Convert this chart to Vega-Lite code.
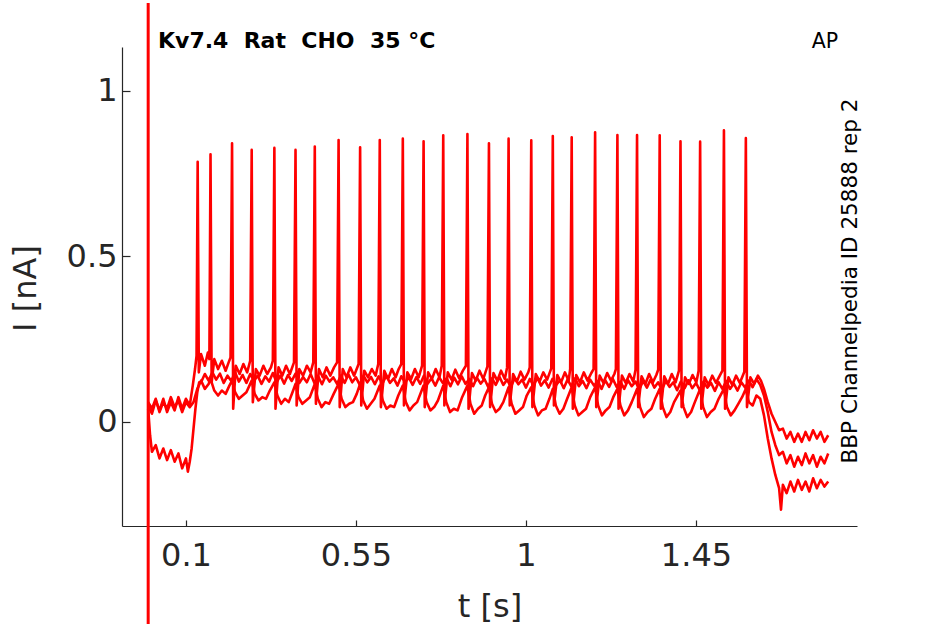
{
  "$schema": "https://vega.github.io/schema/vega-lite/v6.json",
  "width": 735,
  "height": 479,
  "autosize": {"type": "none"},
  "padding": {"left": 122, "top": 47, "right": 88, "bottom": 98},
  "datasets": {
    "traceA": [
      {"t":0.000,"i":0.050},{"t":0.010,"i":0.025},{"t":0.020,"i":0.065},{"t":0.030,"i":0.035},{"t":0.040,"i":0.070},{"t":0.050,"i":0.030},{"t":0.060,"i":0.060},{"t":0.070,"i":0.035},{"t":0.080,"i":0.075},{"t":0.090,"i":0.040},{"t":0.100,"i":0.070},{"t":0.110,"i":0.050},{"t":0.118,"i":0.110},{"t":0.124,"i":0.160},{"t":0.128,"i":0.200},
      {"t":0.131,"i":0.786},{"t":0.134,"i":0.150},{"t":0.140,"i":0.205},{"t":0.150,"i":0.170},{"t":0.158,"i":0.210},{"t":0.162,"i":0.190},
      {"t":0.165,"i":0.809},{"t":0.168,"i":0.120},{"t":0.175,"i":0.190},{"t":0.185,"i":0.160},{"t":0.195,"i":0.185},{"t":0.205,"i":0.155},{"t":0.213,"i":0.180},{"t":0.218,"i":0.195},
      {"t":0.222,"i":0.842},{"t":0.225,"i":0.040},{"t":0.232,"i":0.170},{"t":0.242,"i":0.145},{"t":0.252,"i":0.175},{"t":0.262,"i":0.150},{"t":0.270,"i":0.185},
      {"t":0.274,"i":0.822},{"t":0.277,"i":0.060},{"t":0.285,"i":0.160},{"t":0.295,"i":0.140},{"t":0.305,"i":0.170},{"t":0.315,"i":0.145},{"t":0.325,"i":0.165},{"t":0.330,"i":0.185},
      {"t":0.334,"i":0.828},{"t":0.337,"i":0.040},{"t":0.345,"i":0.165},{"t":0.355,"i":0.140},{"t":0.365,"i":0.170},{"t":0.375,"i":0.145},{"t":0.386,"i":0.180},
      {"t":0.390,"i":0.822},{"t":0.393,"i":0.050},{"t":0.400,"i":0.160},{"t":0.410,"i":0.140},{"t":0.420,"i":0.170},{"t":0.430,"i":0.150},{"t":0.437,"i":0.180},
      {"t":0.441,"i":0.832},{"t":0.444,"i":0.055},{"t":0.452,"i":0.160},{"t":0.462,"i":0.135},{"t":0.472,"i":0.165},{"t":0.482,"i":0.140},{"t":0.492,"i":0.165},{"t":0.500,"i":0.180},
      {"t":0.504,"i":0.852},{"t":0.507,"i":0.045},{"t":0.515,"i":0.160},{"t":0.525,"i":0.135},{"t":0.535,"i":0.165},{"t":0.545,"i":0.140},{"t":0.557,"i":0.175},
      {"t":0.561,"i":0.830},{"t":0.564,"i":0.050},{"t":0.572,"i":0.155},{"t":0.582,"i":0.135},{"t":0.592,"i":0.160},{"t":0.602,"i":0.140},{"t":0.609,"i":0.175},
      {"t":0.613,"i":0.852},{"t":0.616,"i":0.045},{"t":0.625,"i":0.155},{"t":0.635,"i":0.130},{"t":0.645,"i":0.160},{"t":0.655,"i":0.135},{"t":0.663,"i":0.160},{"t":0.670,"i":0.175},
      {"t":0.674,"i":0.856},{"t":0.677,"i":0.050},{"t":0.686,"i":0.150},{"t":0.696,"i":0.130},{"t":0.706,"i":0.160},{"t":0.716,"i":0.135},{"t":0.725,"i":0.170},
      {"t":0.729,"i":0.848},{"t":0.732,"i":0.045},{"t":0.741,"i":0.150},{"t":0.751,"i":0.130},{"t":0.761,"i":0.160},{"t":0.771,"i":0.135},{"t":0.777,"i":0.170},
      {"t":0.781,"i":0.866},{"t":0.784,"i":0.050},{"t":0.793,"i":0.150},{"t":0.803,"i":0.128},{"t":0.813,"i":0.158},{"t":0.823,"i":0.132},{"t":0.833,"i":0.155},{"t":0.841,"i":0.170},
      {"t":0.845,"i":0.870},{"t":0.848,"i":0.040},{"t":0.857,"i":0.148},{"t":0.867,"i":0.125},{"t":0.877,"i":0.155},{"t":0.887,"i":0.130},{"t":0.898,"i":0.168},
      {"t":0.902,"i":0.842},{"t":0.905,"i":0.045},{"t":0.914,"i":0.148},{"t":0.924,"i":0.125},{"t":0.934,"i":0.155},{"t":0.944,"i":0.130},{"t":0.950,"i":0.165},
      {"t":0.954,"i":0.856},{"t":0.957,"i":0.050},{"t":0.966,"i":0.145},{"t":0.976,"i":0.122},{"t":0.986,"i":0.152},{"t":0.996,"i":0.128},{"t":1.006,"i":0.150},{"t":1.010,"i":0.165},
      {"t":1.014,"i":0.851},{"t":1.017,"i":0.045},{"t":1.026,"i":0.145},{"t":1.036,"i":0.122},{"t":1.046,"i":0.150},{"t":1.056,"i":0.128},{"t":1.067,"i":0.162},
      {"t":1.071,"i":0.864},{"t":1.074,"i":0.050},{"t":1.083,"i":0.142},{"t":1.093,"i":0.120},{"t":1.103,"i":0.150},{"t":1.113,"i":0.125},{"t":1.117,"i":0.160},
      {"t":1.121,"i":0.860},{"t":1.124,"i":0.040},{"t":1.133,"i":0.142},{"t":1.143,"i":0.120},{"t":1.153,"i":0.150},{"t":1.163,"i":0.125},{"t":1.173,"i":0.148},{"t":1.179,"i":0.160},
      {"t":1.183,"i":0.875},{"t":1.186,"i":0.045},{"t":1.195,"i":0.140},{"t":1.205,"i":0.118},{"t":1.215,"i":0.148},{"t":1.225,"i":0.125},{"t":1.234,"i":0.145},{"t":1.238,"i":0.160},
      {"t":1.242,"i":0.867},{"t":1.245,"i":0.040},{"t":1.254,"i":0.140},{"t":1.264,"i":0.118},{"t":1.274,"i":0.145},{"t":1.284,"i":0.122},{"t":1.290,"i":0.158},
      {"t":1.294,"i":0.867},{"t":1.297,"i":0.045},{"t":1.306,"i":0.138},{"t":1.316,"i":0.115},{"t":1.326,"i":0.145},{"t":1.336,"i":0.120},{"t":1.345,"i":0.142},{"t":1.350,"i":0.158},
      {"t":1.354,"i":0.866},{"t":1.357,"i":0.040},{"t":1.366,"i":0.138},{"t":1.376,"i":0.115},{"t":1.386,"i":0.145},{"t":1.396,"i":0.120},{"t":1.405,"i":0.155},
      {"t":1.409,"i":0.848},{"t":1.412,"i":0.045},{"t":1.421,"i":0.135},{"t":1.431,"i":0.115},{"t":1.441,"i":0.142},{"t":1.451,"i":0.120},{"t":1.457,"i":0.155},
      {"t":1.461,"i":0.847},{"t":1.464,"i":0.040},{"t":1.473,"i":0.135},{"t":1.483,"i":0.112},{"t":1.493,"i":0.140},{"t":1.503,"i":0.118},{"t":1.513,"i":0.140},{"t":1.520,"i":0.155},
      {"t":1.524,"i":0.881},{"t":1.527,"i":0.040},{"t":1.536,"i":0.135},{"t":1.546,"i":0.112},{"t":1.556,"i":0.140},{"t":1.566,"i":0.118},{"t":1.578,"i":0.152},
      {"t":1.582,"i":0.858},{"t":1.585,"i":0.045},{"t":1.594,"i":0.135},{"t":1.604,"i":0.115},{"t":1.614,"i":0.140},{"t":1.622,"i":0.125},
      {"t":1.630,"i":0.100},{"t":1.640,"i":0.060},{"t":1.650,"i":0.025},{"t":1.660,"i":0.000},{"t":1.670,"i":-0.025},{"t":1.680,"i":-0.020},{"t":1.690,"i":-0.050},{"t":1.700,"i":-0.030},{"t":1.710,"i":-0.060},{"t":1.720,"i":-0.035},{"t":1.730,"i":-0.060},{"t":1.740,"i":-0.030},{"t":1.750,"i":-0.055},{"t":1.760,"i":-0.025},{"t":1.770,"i":-0.050},{"t":1.780,"i":-0.030},{"t":1.790,"i":-0.060},{"t":1.800,"i":-0.040}
    ],
    "traceB": [
      {"t":0.000,"i":0.040},{"t":0.005,"i":-0.040},{"t":0.010,"i":-0.090},{"t":0.020,"i":-0.070},{"t":0.030,"i":-0.110},{"t":0.040,"i":-0.080},{"t":0.050,"i":-0.115},{"t":0.060,"i":-0.085},{"t":0.070,"i":-0.120},{"t":0.080,"i":-0.095},{"t":0.090,"i":-0.140},{"t":0.100,"i":-0.110},{"t":0.105,"i":-0.150},{"t":0.110,"i":-0.120},{"t":0.115,"i":-0.080},{"t":0.120,"i":-0.020},{"t":0.125,"i":0.040},{"t":0.130,"i":0.090},{"t":0.135,"i":0.120},
      {"t":0.14,"i":0.120},{"t":0.15,"i":0.145},{"t":0.16,"i":0.125},{"t":0.17,"i":0.150},{"t":0.18,"i":0.128},{"t":0.19,"i":0.146},{"t":0.20,"i":0.118},{"t":0.21,"i":0.140},{"t":0.22,"i":0.124},{"t":0.23,"i":0.150},
      {"t":0.24,"i":0.122},{"t":0.25,"i":0.142},{"t":0.26,"i":0.118},{"t":0.27,"i":0.145},{"t":0.28,"i":0.125},{"t":0.29,"i":0.140},{"t":0.30,"i":0.115},{"t":0.31,"i":0.138},{"t":0.32,"i":0.122},{"t":0.33,"i":0.148},
      {"t":0.34,"i":0.120},{"t":0.35,"i":0.140},{"t":0.36,"i":0.116},{"t":0.37,"i":0.142},{"t":0.38,"i":0.124},{"t":0.39,"i":0.146},{"t":0.40,"i":0.118},{"t":0.41,"i":0.136},{"t":0.42,"i":0.120},{"t":0.43,"i":0.145},
      {"t":0.44,"i":0.118},{"t":0.45,"i":0.138},{"t":0.46,"i":0.114},{"t":0.47,"i":0.140},{"t":0.48,"i":0.122},{"t":0.49,"i":0.135},{"t":0.50,"i":0.115},{"t":0.51,"i":0.140},{"t":0.52,"i":0.118},{"t":0.53,"i":0.144},
      {"t":0.54,"i":0.120},{"t":0.55,"i":0.135},{"t":0.56,"i":0.112},{"t":0.57,"i":0.140},{"t":0.58,"i":0.120},{"t":0.59,"i":0.136},{"t":0.60,"i":0.114},{"t":0.61,"i":0.138},{"t":0.62,"i":0.116},{"t":0.63,"i":0.140},
      {"t":0.64,"i":0.118},{"t":0.65,"i":0.132},{"t":0.66,"i":0.110},{"t":0.67,"i":0.138},{"t":0.68,"i":0.120},{"t":0.69,"i":0.134},{"t":0.70,"i":0.112},{"t":0.71,"i":0.136},{"t":0.72,"i":0.115},{"t":0.73,"i":0.140},
      {"t":0.74,"i":0.116},{"t":0.75,"i":0.132},{"t":0.76,"i":0.110},{"t":0.77,"i":0.135},{"t":0.78,"i":0.118},{"t":0.79,"i":0.132},{"t":0.80,"i":0.108},{"t":0.81,"i":0.134},{"t":0.82,"i":0.114},{"t":0.83,"i":0.138},
      {"t":0.84,"i":0.115},{"t":0.85,"i":0.130},{"t":0.86,"i":0.108},{"t":0.87,"i":0.134},{"t":0.88,"i":0.116},{"t":0.89,"i":0.130},{"t":0.90,"i":0.106},{"t":0.91,"i":0.132},{"t":0.92,"i":0.112},{"t":0.93,"i":0.136},
      {"t":0.94,"i":0.112},{"t":0.95,"i":0.128},{"t":0.96,"i":0.106},{"t":0.97,"i":0.132},{"t":0.98,"i":0.114},{"t":0.99,"i":0.128},{"t":1.00,"i":0.104},{"t":1.01,"i":0.130},{"t":1.02,"i":0.110},{"t":1.03,"i":0.134},
      {"t":1.04,"i":0.110},{"t":1.05,"i":0.126},{"t":1.06,"i":0.104},{"t":1.07,"i":0.130},{"t":1.08,"i":0.112},{"t":1.09,"i":0.126},{"t":1.10,"i":0.102},{"t":1.11,"i":0.128},{"t":1.12,"i":0.108},{"t":1.13,"i":0.132},
      {"t":1.14,"i":0.108},{"t":1.15,"i":0.124},{"t":1.16,"i":0.102},{"t":1.17,"i":0.128},{"t":1.18,"i":0.110},{"t":1.19,"i":0.124},{"t":1.20,"i":0.100},{"t":1.21,"i":0.126},{"t":1.22,"i":0.106},{"t":1.23,"i":0.130},
      {"t":1.24,"i":0.106},{"t":1.25,"i":0.122},{"t":1.26,"i":0.100},{"t":1.27,"i":0.126},{"t":1.28,"i":0.108},{"t":1.29,"i":0.122},{"t":1.30,"i":0.098},{"t":1.31,"i":0.124},{"t":1.32,"i":0.104},{"t":1.33,"i":0.128},
      {"t":1.34,"i":0.104},{"t":1.35,"i":0.120},{"t":1.36,"i":0.098},{"t":1.37,"i":0.124},{"t":1.38,"i":0.106},{"t":1.39,"i":0.120},{"t":1.40,"i":0.096},{"t":1.41,"i":0.122},{"t":1.42,"i":0.102},{"t":1.43,"i":0.126},
      {"t":1.44,"i":0.102},{"t":1.45,"i":0.118},{"t":1.46,"i":0.096},{"t":1.47,"i":0.122},{"t":1.48,"i":0.104},{"t":1.49,"i":0.118},{"t":1.50,"i":0.094},{"t":1.51,"i":0.120},{"t":1.52,"i":0.100},{"t":1.53,"i":0.124},
      {"t":1.54,"i":0.100},{"t":1.55,"i":0.116},{"t":1.56,"i":0.095},{"t":1.57,"i":0.120},{"t":1.58,"i":0.104},{"t":1.59,"i":0.125},{"t":1.60,"i":0.105},{"t":1.61,"i":0.130},{"t":1.62,"i":0.112},
      {"t":1.63,"i":0.080},{"t":1.64,"i":0.030},{"t":1.65,"i":-0.030},{"t":1.66,"i":-0.070},{"t":1.67,"i":-0.100},{"t":1.68,"i":-0.090},{"t":1.69,"i":-0.125},{"t":1.70,"i":-0.100},{"t":1.71,"i":-0.135},{"t":1.72,"i":-0.105},{"t":1.73,"i":-0.130},{"t":1.74,"i":-0.095},{"t":1.75,"i":-0.125},{"t":1.76,"i":-0.100},{"t":1.77,"i":-0.135},{"t":1.78,"i":-0.105},{"t":1.79,"i":-0.125},{"t":1.80,"i":-0.095}
    ],
    "traceC": [
      {"t":0.000,"i":0.060},{"t":0.010,"i":0.040},{"t":0.020,"i":0.070},{"t":0.030,"i":0.030},{"t":0.040,"i":0.060},{"t":0.050,"i":0.040},{"t":0.060,"i":0.075},{"t":0.070,"i":0.045},{"t":0.080,"i":0.065},{"t":0.090,"i":0.030},{"t":0.100,"i":0.060},{"t":0.110,"i":0.045},{"t":0.120,"i":0.060},{"t":0.130,"i":0.100},
      {"t":0.140,"i":0.125},{"t":0.150,"i":0.100},{"t":0.160,"i":0.115},{"t":0.165,"i":0.130},{"t":0.175,"i":0.095},{"t":0.185,"i":0.080},{"t":0.195,"i":0.095},{"t":0.205,"i":0.085},{"t":0.215,"i":0.110},
      {"t":0.222,"i":0.125},{"t":0.230,"i":0.090},{"t":0.240,"i":0.070},{"t":0.250,"i":0.080},{"t":0.260,"i":0.090},{"t":0.268,"i":0.110},
      {"t":0.274,"i":0.125},{"t":0.282,"i":0.085},{"t":0.292,"i":0.065},{"t":0.302,"i":0.075},{"t":0.312,"i":0.070},{"t":0.322,"i":0.095},
      {"t":0.334,"i":0.120},{"t":0.342,"i":0.080},{"t":0.352,"i":0.055},{"t":0.362,"i":0.070},{"t":0.372,"i":0.060},{"t":0.382,"i":0.090},
      {"t":0.390,"i":0.115},{"t":0.398,"i":0.075},{"t":0.408,"i":0.055},{"t":0.418,"i":0.065},{"t":0.428,"i":0.075},
      {"t":0.441,"i":0.115},{"t":0.449,"i":0.070},{"t":0.459,"i":0.045},{"t":0.469,"i":0.060},{"t":0.479,"i":0.055},{"t":0.491,"i":0.085},
      {"t":0.504,"i":0.115},{"t":0.512,"i":0.070},{"t":0.522,"i":0.045},{"t":0.532,"i":0.055},{"t":0.542,"i":0.060},{"t":0.552,"i":0.085},
      {"t":0.561,"i":0.115},{"t":0.569,"i":0.065},{"t":0.579,"i":0.040},{"t":0.589,"i":0.055},{"t":0.599,"i":0.070},
      {"t":0.613,"i":0.110},{"t":0.621,"i":0.065},{"t":0.631,"i":0.040},{"t":0.641,"i":0.050},{"t":0.651,"i":0.045},{"t":0.662,"i":0.080},
      {"t":0.674,"i":0.110},{"t":0.682,"i":0.060},{"t":0.692,"i":0.035},{"t":0.702,"i":0.050},{"t":0.712,"i":0.060},
      {"t":0.729,"i":0.110},{"t":0.737,"i":0.060},{"t":0.747,"i":0.035},{"t":0.757,"i":0.045},{"t":0.767,"i":0.065},
      {"t":0.781,"i":0.110},{"t":0.789,"i":0.060},{"t":0.799,"i":0.030},{"t":0.809,"i":0.040},{"t":0.819,"i":0.035},{"t":0.831,"i":0.075},
      {"t":0.845,"i":0.110},{"t":0.853,"i":0.055},{"t":0.863,"i":0.025},{"t":0.873,"i":0.040},{"t":0.883,"i":0.050},{"t":0.892,"i":0.080},
      {"t":0.902,"i":0.105},{"t":0.910,"i":0.055},{"t":0.920,"i":0.030},{"t":0.930,"i":0.040},{"t":0.940,"i":0.060},
      {"t":0.954,"i":0.105},{"t":0.962,"i":0.055},{"t":0.972,"i":0.025},{"t":0.982,"i":0.035},{"t":0.992,"i":0.045},{"t":1.002,"i":0.080},
      {"t":1.014,"i":0.105},{"t":1.022,"i":0.050},{"t":1.032,"i":0.020},{"t":1.042,"i":0.035},{"t":1.052,"i":0.040},{"t":1.062,"i":0.070},
      {"t":1.071,"i":0.100},{"t":1.079,"i":0.050},{"t":1.089,"i":0.025},{"t":1.099,"i":0.040},{"t":1.109,"i":0.070},
      {"t":1.121,"i":0.105},{"t":1.129,"i":0.050},{"t":1.139,"i":0.020},{"t":1.149,"i":0.030},{"t":1.159,"i":0.040},{"t":1.170,"i":0.075},
      {"t":1.183,"i":0.105},{"t":1.191,"i":0.050},{"t":1.201,"i":0.020},{"t":1.211,"i":0.035},{"t":1.221,"i":0.045},{"t":1.231,"i":0.075},
      {"t":1.242,"i":0.100},{"t":1.250,"i":0.050},{"t":1.260,"i":0.020},{"t":1.270,"i":0.035},{"t":1.280,"i":0.060},
      {"t":1.294,"i":0.100},{"t":1.302,"i":0.045},{"t":1.312,"i":0.015},{"t":1.322,"i":0.030},{"t":1.332,"i":0.040},{"t":1.342,"i":0.070},
      {"t":1.354,"i":0.100},{"t":1.362,"i":0.045},{"t":1.372,"i":0.015},{"t":1.382,"i":0.030},{"t":1.392,"i":0.060},
      {"t":1.409,"i":0.095},{"t":1.417,"i":0.045},{"t":1.427,"i":0.015},{"t":1.437,"i":0.030},{"t":1.447,"i":0.060},
      {"t":1.461,"i":0.100},{"t":1.469,"i":0.045},{"t":1.479,"i":0.015},{"t":1.489,"i":0.030},{"t":1.499,"i":0.040},{"t":1.510,"i":0.070},
      {"t":1.524,"i":0.100},{"t":1.532,"i":0.045},{"t":1.542,"i":0.020},{"t":1.552,"i":0.035},{"t":1.562,"i":0.055},{"t":1.572,"i":0.075},
      {"t":1.582,"i":0.100},{"t":1.590,"i":0.060},{"t":1.600,"i":0.050},{"t":1.610,"i":0.080},{"t":1.620,"i":0.070},
      {"t":1.630,"i":0.020},{"t":1.640,"i":-0.050},{"t":1.650,"i":-0.110},{"t":1.660,"i":-0.160},{"t":1.670,"i":-0.200},{"t":1.675,"i":-0.265},{"t":1.680,"i":-0.190},{"t":1.690,"i":-0.215},{"t":1.700,"i":-0.180},{"t":1.710,"i":-0.210},{"t":1.720,"i":-0.175},{"t":1.730,"i":-0.205},{"t":1.740,"i":-0.180},{"t":1.750,"i":-0.210},{"t":1.760,"i":-0.170},{"t":1.770,"i":-0.200},{"t":1.780,"i":-0.175},{"t":1.790,"i":-0.195},{"t":1.800,"i":-0.180}
    ]
  },
  "encoding": {
    "x": {
      "field": "t",
      "type": "quantitative",
      "scale": {"domain": [-0.0693, 1.8762], "nice": false, "zero": false},
      "axis": {
        "values": [0.1, 0.55, 1, 1.45],
        "format": ".3~g",
        "title": "t [s]",
        "tickSize": -6,
        "labelPadding": 20,
        "titleY": 90,
        "titleBaseline": "alphabetic"
      }
    },
    "y": {
      "field": "i",
      "type": "quantitative",
      "scale": {"domain": [-0.3142, 1.1329], "nice": false, "zero": false},
      "axis": {
        "values": [0, 0.5, 1],
        "format": ".2~g",
        "title": "I [nA]",
        "tickSize": -8,
        "labelPadding": 13,
        "titleAngle": 270,
        "titleX": -87,
        "titleY": 241,
        "titleAlign": "center",
        "titleBaseline": "alphabetic"
      }
    }
  },
  "layer": [
    {"data": {"name": "traceB"}, "mark": {"type": "line", "color": "#ff0000", "strokeWidth": 2.6, "strokeJoin": "round"}},
    {"data": {"name": "traceC"}, "mark": {"type": "line", "color": "#ff0000", "strokeWidth": 2.6, "strokeJoin": "round"}},
    {"data": {"name": "traceA"}, "mark": {"type": "line", "color": "#ff0000", "strokeWidth": 2.6, "strokeJoin": "round"}},
    {
      "data": {"values": [{"t": 0, "i": 1.266, "i2": -0.62}]},
      "mark": {"type": "rule", "color": "#ff0000", "strokeWidth": 3, "clip": false},
      "encoding": {"y2": {"field": "i2"}}
    },
    {
      "data": {"values": [{"t": 0.026, "i": 1.131, "txt": "Kv7.4\u00a0 Rat\u00a0 CHO\u00a0 35 °C"}]},
      "mark": {"type": "text", "align": "left", "baseline": "alphabetic", "font": "DejaVu Sans", "fontSize": 22, "fontWeight": "bold", "color": "#000000"},
      "encoding": {"text": {"field": "txt"}}
    },
    {
      "data": {"values": [{"t": 1.826, "i": 1.131, "txt": "AP"}]},
      "mark": {"type": "text", "align": "right", "baseline": "alphabetic", "font": "DejaVu Sans", "fontSize": 20.5, "color": "#000000"},
      "encoding": {"text": {"field": "txt"}}
    },
    {
      "data": {"values": [{"t": 1.876, "i": 0.426, "txt": "BBP Channelpedia ID 25888 rep 2"}]},
      "mark": {"type": "text", "align": "center", "baseline": "alphabetic", "angle": 270, "font": "DejaVu Sans", "fontSize": 21.5, "color": "#000000", "clip": false},
      "encoding": {"text": {"field": "txt"}}
    }
  ],
  "config": {
    "view": {"stroke": null},
    "axis": {
      "grid": false,
      "labelFont": "DejaVu Sans",
      "titleFont": "DejaVu Sans",
      "labelFontSize": 32,
      "titleFontSize": 32,
      "titleFontWeight": "normal",
      "labelColor": "#262626",
      "titleColor": "#262626",
      "domainColor": "#262626",
      "tickColor": "#262626",
      "domainWidth": 1.2,
      "tickWidth": 1.2
    }
  }
}
